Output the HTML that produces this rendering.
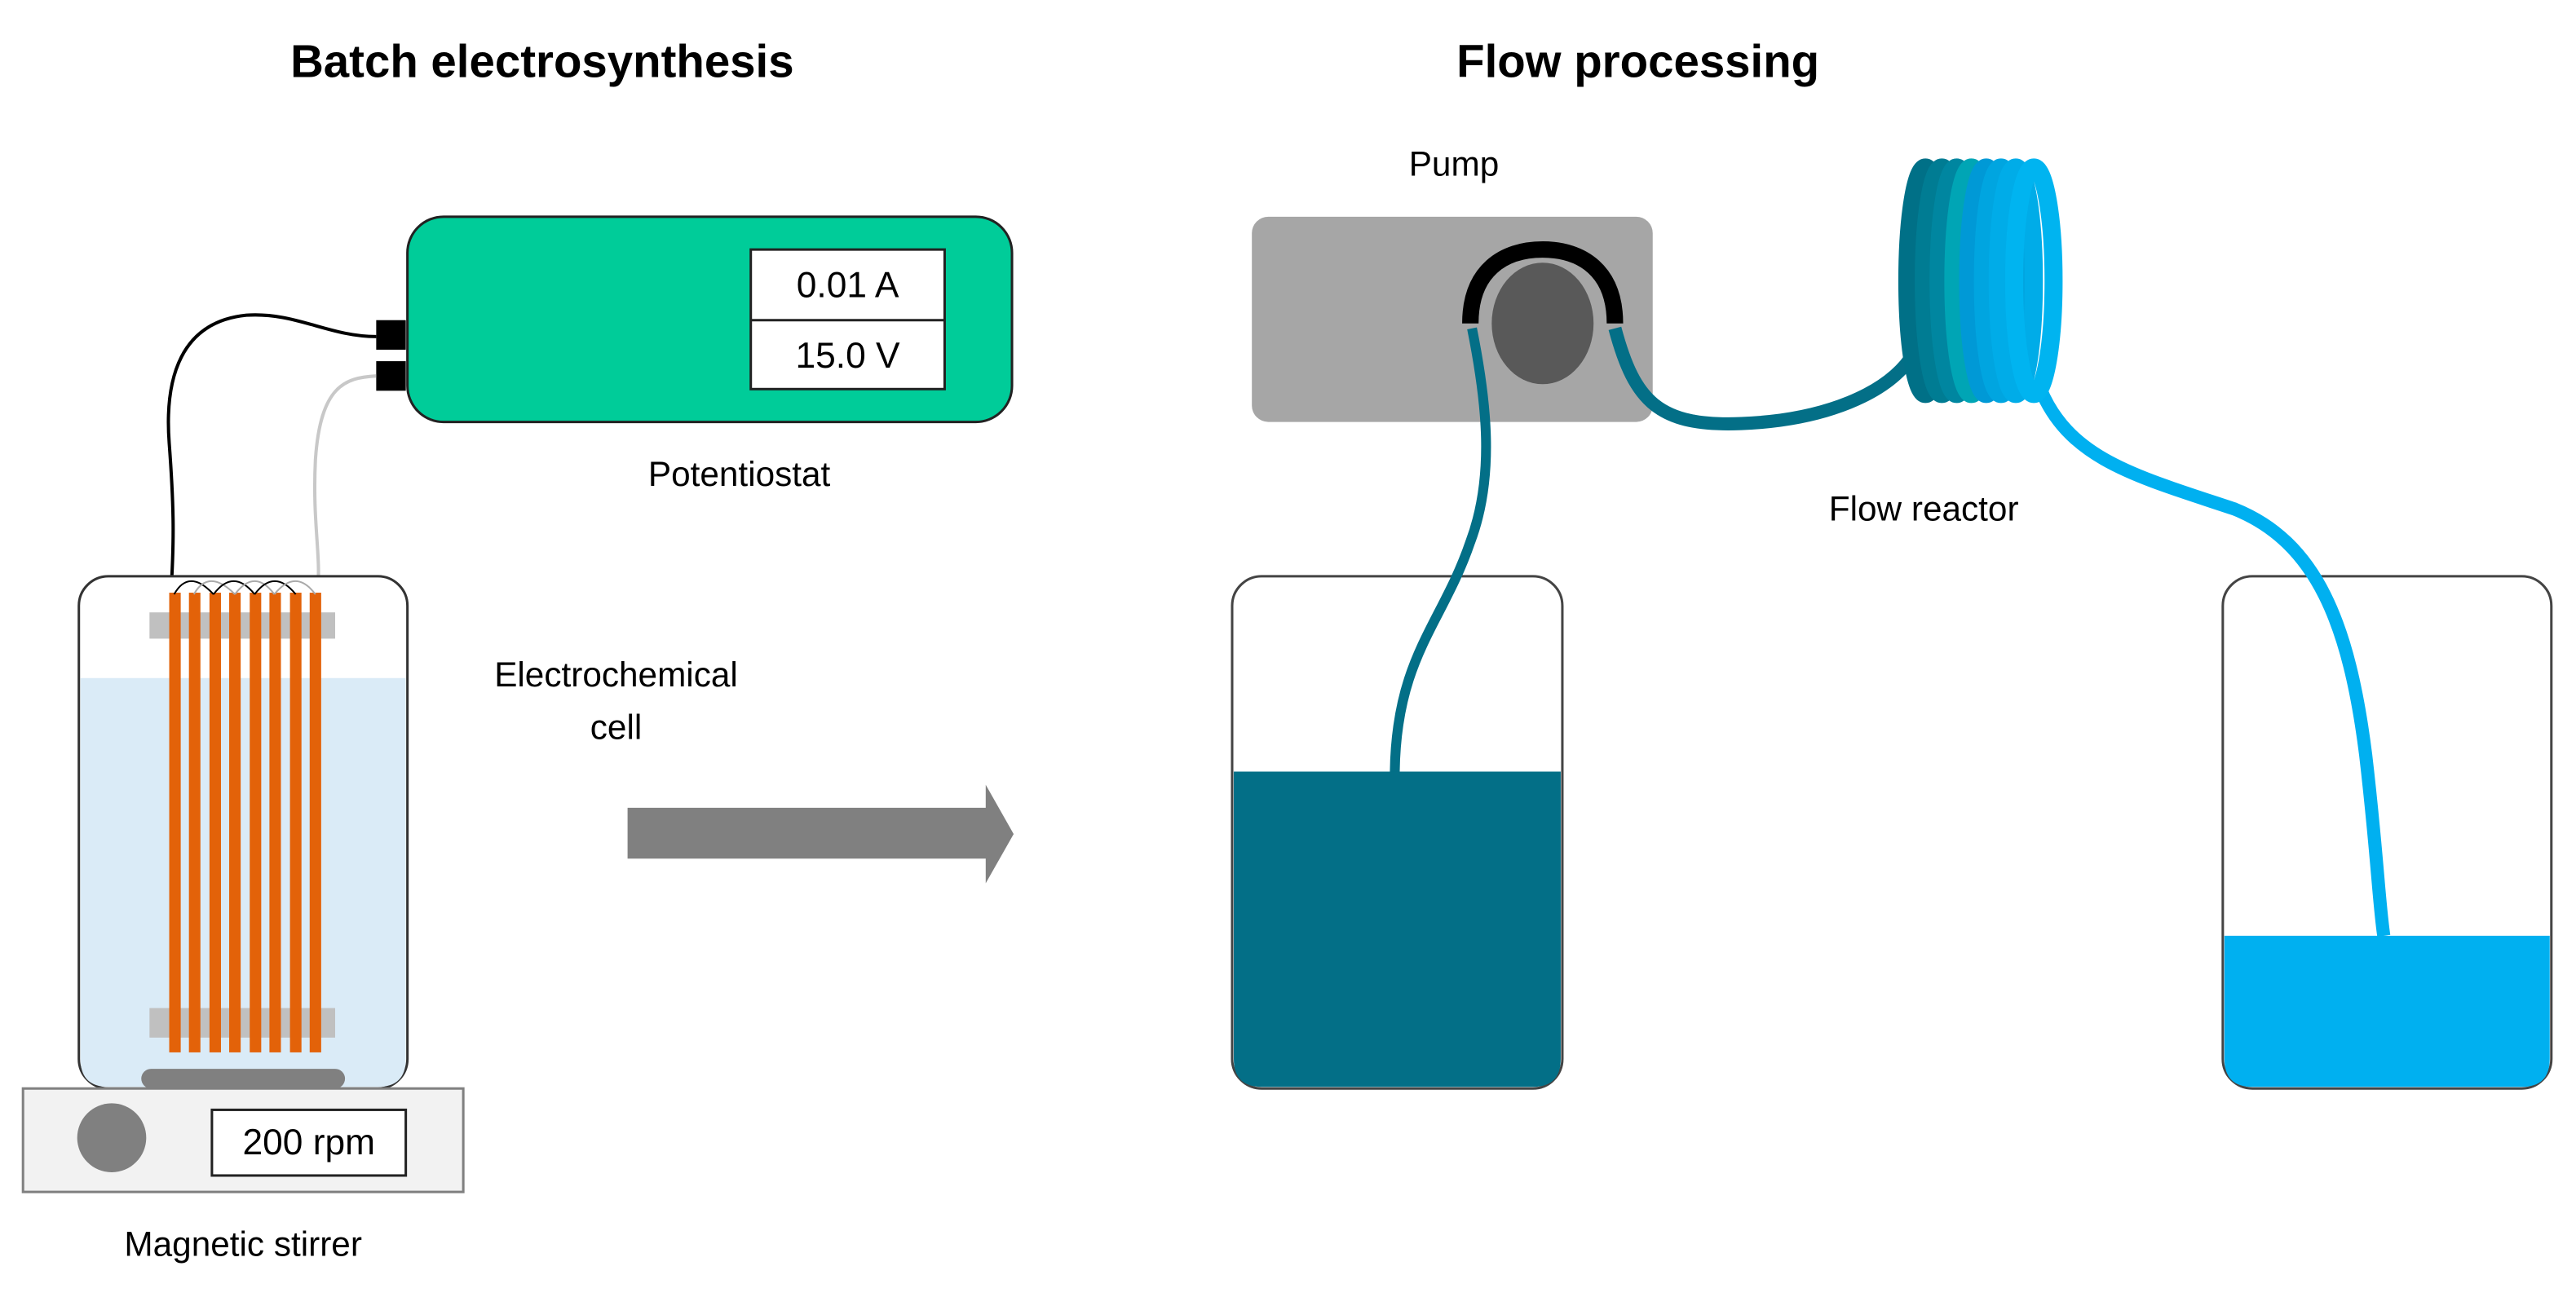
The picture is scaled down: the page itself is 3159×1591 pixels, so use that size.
<!DOCTYPE html>
<html><head><meta charset="utf-8"><style>
html,body{margin:0;padding:0;background:#fff;}
svg{display:block;}
text{font-family:"Liberation Sans",sans-serif;fill:#000;}
</style></head><body>
<svg width="3159" height="1591" viewBox="0 0 1568 790" preserveAspectRatio="none" xmlns="http://www.w3.org/2000/svg">
<!-- titles -->
<text x="330" y="47" font-size="28" font-weight="bold" text-anchor="middle">Batch electrosynthesis</text>
<text x="997" y="47" font-size="28" font-weight="bold" text-anchor="middle">Flow processing</text>

<!-- potentiostat -->
<rect x="248" y="132" width="368" height="125" rx="22" fill="#00CC99" stroke="#222" stroke-width="1.5"/>
<rect x="457" y="152" width="118" height="85" fill="#fff" stroke="#222" stroke-width="1.5"/>
<line x1="457" y1="195" x2="575" y2="195" stroke="#222" stroke-width="1.5"/>
<text x="516" y="181" font-size="22" text-anchor="middle">0.01 A</text>
<text x="516" y="224" font-size="22" text-anchor="middle">15.0 V</text>
<rect x="229" y="195" width="18" height="18" fill="#000"/>
<rect x="229" y="220" width="18" height="18" fill="#000"/>
<text x="450" y="296" font-size="21" text-anchor="middle">Potentiostat</text>

<!-- wires -->
<path d="M229 205 C200 205,180 190,150 192 C110 196,100 230,103 270 C106 310,106 330,104 362" fill="none" stroke="#000" stroke-width="2"/>
<path d="M229 229 C210 230,195 235,192 280 C190 320,196 340,193 362" fill="none" stroke="#c8c8c8" stroke-width="2"/>

<!-- cell -->
<rect x="48" y="351" width="200" height="312" rx="18" fill="#fff" stroke="#333" stroke-width="1.5"/>
<path d="M49 413 H247 V645 Q247 662 230 662 H66 Q49 662 49 645 Z" fill="#DAEBF7"/>
<rect x="91" y="373" width="113" height="16" fill="#c0c0c0"/>
<rect x="91" y="614" width="113" height="18" fill="#c0c0c0"/>
<g fill="#E36209">
<rect x="103" y="361" width="7" height="280"/>
<rect x="115" y="361" width="7" height="280"/>
<rect x="127.5" y="361" width="7" height="280"/>
<rect x="139.5" y="361" width="7" height="280"/>
<rect x="152" y="361" width="7" height="280"/>
<rect x="164" y="361" width="7" height="280"/>
<rect x="176.5" y="361" width="7" height="280"/>
<rect x="188.5" y="361" width="7" height="280"/>
</g>
<g fill="none" stroke-width="1">
<path d="M106 362 Q115 346 130 362" stroke="#000"/>
<path d="M118 362 Q127 346 143 362" stroke="#aaa"/>
<path d="M130 362 Q142 346 155 362" stroke="#000"/>
<path d="M143 362 Q155 346 167 362" stroke="#aaa"/>
<path d="M155 362 Q167 346 180 362" stroke="#000"/>
<path d="M167 362 Q180 346 192 362" stroke="#aaa"/>
</g>
<rect x="86" y="651" width="124" height="12" rx="6" fill="#808080"/>

<!-- stirrer -->
<rect x="14" y="663" width="268" height="63" fill="#F2F2F2" stroke="#808080" stroke-width="1.5"/>
<circle cx="68" cy="693" r="21" fill="#808080"/>
<rect x="129" y="676" width="118" height="40" fill="#fff" stroke="#222" stroke-width="1.5"/>
<text x="188" y="703" font-size="22" text-anchor="middle">200 rpm</text>
<text x="148" y="765" font-size="21" text-anchor="middle">Magnetic stirrer</text>

<text x="375" y="418" font-size="21" text-anchor="middle">Electrochemical</text>
<text x="375" y="450" font-size="21" text-anchor="middle">cell</text>

<!-- arrow -->
<polygon points="382,492 600,492 600,478 617,508 600,538 600,523 382,523" fill="#808080"/>

<!-- pump -->
<text x="885" y="107" font-size="21" text-anchor="middle">Pump</text>
<rect x="762" y="132" width="244" height="125" rx="10" fill="#A6A6A6"/>
<ellipse cx="939" cy="197" rx="31" ry="37" fill="#595959"/>
<path d="M895 197 C895 165,915 152,939 152 C963 152,983 165,983 197" fill="none" stroke="#000" stroke-width="10"/>

<!-- beakers -->
<rect x="750" y="351" width="201" height="312" rx="18" fill="#fff" stroke="#444" stroke-width="1.5"/>
<path d="M751 470 H950 V645 Q950 662 933 662 H768 Q751 662 751 645 Z" fill="#036F87"/>
<rect x="1353" y="351" width="200" height="312" rx="18" fill="#fff" stroke="#444" stroke-width="1.5"/>
<path d="M1354 570 H1552 V645 Q1552 662 1535 662 H1371 Q1354 662 1354 645 Z" fill="#00B0F0"/>

<!-- tubing -->
<path d="M896 200 C905 245,910 290,895 330 C878 380,850 400,849 470" fill="none" stroke="#036F87" stroke-width="6"/>
<path d="M983 200 C995 245,1010 260,1060 258 C1110 256,1150 240,1165 215" fill="none" stroke="#036F87" stroke-width="8"/>
<path d="M1242 237 C1260 280,1300 290,1360 310 C1410 330,1430 380,1440 460 C1447 520,1448 550,1451 570" fill="none" stroke="#00B0F0" stroke-width="8"/>

<!-- coil -->
<g fill="none" stroke-width="11">
<ellipse cx="1172" cy="171" rx="11" ry="69" stroke="#007087"/>
<ellipse cx="1182" cy="171" rx="11" ry="69" stroke="#007C93"/>
<ellipse cx="1191" cy="171" rx="11" ry="69" stroke="#0086A0"/>
<ellipse cx="1200" cy="171" rx="11" ry="69" stroke="#00A5B5"/>
<ellipse cx="1209" cy="171" rx="11" ry="69" stroke="#0099D6"/>
<ellipse cx="1218" cy="171" rx="11" ry="69" stroke="#00A5E0"/>
<ellipse cx="1227" cy="171" rx="11" ry="69" stroke="#00ACE8"/>
<ellipse cx="1238" cy="171" rx="12" ry="69" stroke="#00B4F0"/>
</g>
<text x="1171" y="317" font-size="21" text-anchor="middle">Flow reactor</text>
</svg>
</body></html>
